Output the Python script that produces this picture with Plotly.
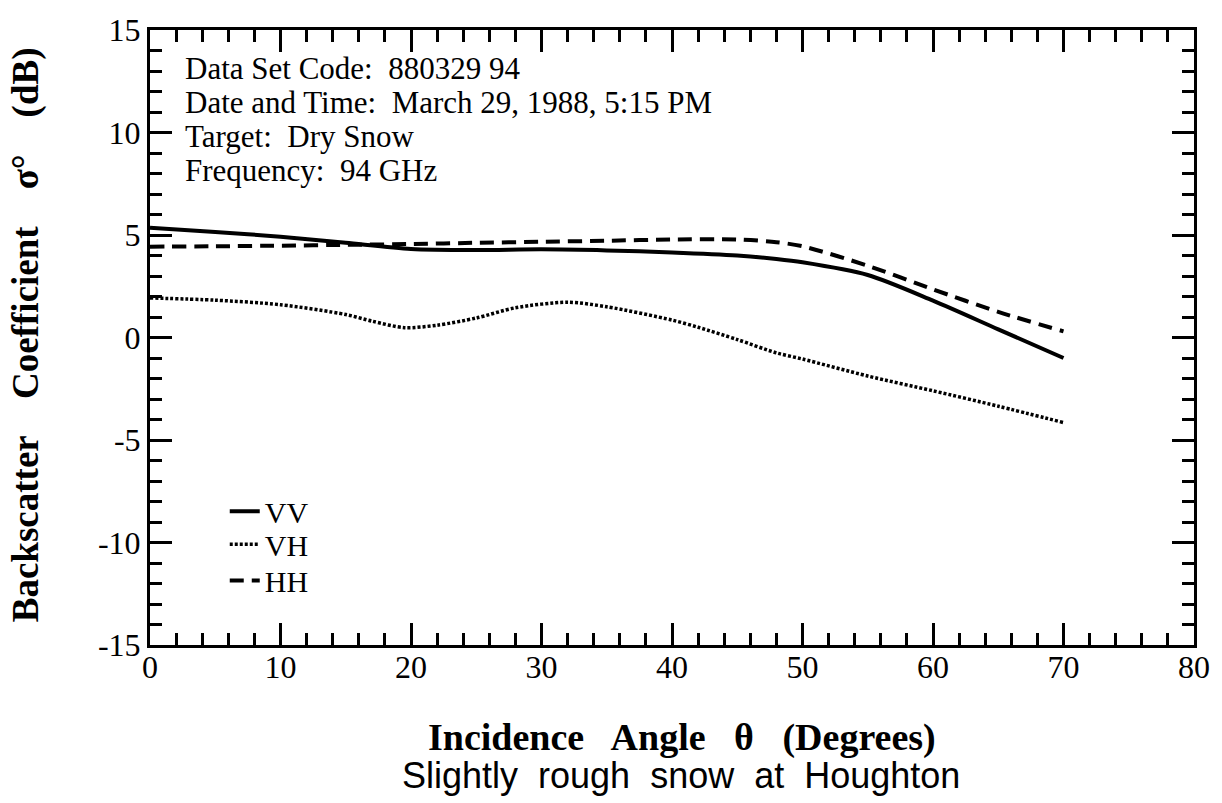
import plotly.graph_objects as go

angle = [0, 5, 10, 15, 20, 25, 30, 35, 40, 45, 48, 50, 55, 60, 65, 70]
vv = [5.35, 5.15, 4.92, 4.62, 4.32, 4.27, 4.30, 4.25, 4.15, 4.0, 3.83, 3.67, 3.05, 1.8, 0.4, -1.0]
hh = [4.43, 4.45, 4.48, 4.52, 4.56, 4.62, 4.67, 4.72, 4.78, 4.78, 4.65, 4.45, 3.5, 2.35, 1.25, 0.3]
vh_angle = [0, 5, 10, 15, 17, 19.5, 22, 25, 28, 32, 35, 40, 42, 45, 48, 50, 55, 60, 65, 70]
vh = [1.93, 1.82, 1.6, 1.12, 0.8, 0.48, 0.6, 0.95, 1.45, 1.72, 1.5, 0.85, 0.5, -0.1, -0.75, -1.05, -1.88, -2.6, -3.35, -4.15]

info_lines = ["Data Set Code:  880329 94",
              "Date and Time:  March 29, 1988, 5:15 PM",
              "Target:  Dry Snow",
              "Frequency:  94 GHz"]

x_ticks = [0, 10, 20, 30, 40, 50, 60, 70, 80]
y_ticks = [-15, -10, -5, 0, 5, 10, 15]

SERIF = "Liberation Serif, Times New Roman, serif"

fig = go.Figure()
fig.add_trace(go.Scatter(x=angle, y=vv, name="VV", mode="lines", legend="legend",
                         line=dict(color="black", width=4, shape="spline", smoothing=0.8)))
fig.add_trace(go.Scatter(x=vh_angle, y=vh, name="VH", mode="lines", legend="legend2",
                         line=dict(color="black", width=3.5, shape="spline", smoothing=0.8, dash="3px,2px")))
fig.add_trace(go.Scatter(x=angle, y=hh, name="HH", mode="lines", legend="legend3",
                         line=dict(color="black", width=4, shape="spline", smoothing=0.8, dash="14px,8px")))

axis_common = dict(showline=True, linecolor="black", linewidth=3, mirror="allticks",
                   ticks="inside", ticklen=22, tickwidth=3, tickcolor="black",
                   showgrid=False, zeroline=False,
                   tickfont=dict(family=SERIF, size=32, color="black"))

fig.update_xaxes(range=[0, 80], tickvals=x_ticks, ticktext=[str(v) for v in x_ticks],
                 ticklabelstandoff=-8,
                 minor=dict(dtick=2, ticks="inside", ticklen=12, tickwidth=3, tickcolor="black", showgrid=False),
                 **axis_common)
fig.update_yaxes(range=[-15, 15], tickvals=y_ticks, ticktext=[str(v) for v in y_ticks],
                 minor=dict(dtick=1, ticks="inside", ticklen=12, tickwidth=3, tickcolor="black", showgrid=False),
                 **axis_common)

annotations = []
for i, line in enumerate(info_lines):
    annotations.append(dict(text=line, xref="paper", yref="paper", x=0.032, y=0.937 - i * 0.0553,
                            xanchor="left", yanchor="middle", showarrow=False,
                            font=dict(family=SERIF, size=31, color="black")))
annotations.append(dict(text="<b>Incidence   Angle   θ   (Degrees)</b>", xref="paper", yref="paper",
                        x=0.51, y=-0.15, xanchor="center", yanchor="middle", showarrow=False,
                        font=dict(family=SERIF, size=38, color="black")))
annotations.append(dict(text="Slightly  rough  snow  at  Houghton", xref="paper", yref="paper",
                        x=0.509, y=-0.213, xanchor="center", yanchor="middle", showarrow=False,
                        font=dict(family="Liberation Sans, Arial, sans-serif", size=36, color="black")))
annotations.append(dict(text="<b>Backscatter    Coefficient    σ°    (dB)</b>", xref="paper", yref="paper",
                        x=-0.118, y=0.505, xanchor="center", yanchor="middle", showarrow=False, textangle=-90,
                        font=dict(family=SERIF, size=37, color="black")))

leg_common = dict(x=0.0716, xanchor="left", yanchor="middle", bgcolor="rgba(0,0,0,0)",
                  font=dict(family=SERIF, size=30, color="black"))

fig.update_layout(
    width=1222, height=803,
    margin=dict(l=150, r=24, t=21, b=158),
    paper_bgcolor="white", plot_bgcolor="white",
    showlegend=True,
    legend=dict(y=0.2174, **leg_common),
    legend2=dict(y=0.164, **leg_common),
    legend3=dict(y=0.105, **leg_common),
    annotations=annotations,
)

fig.write_html("out.html")
